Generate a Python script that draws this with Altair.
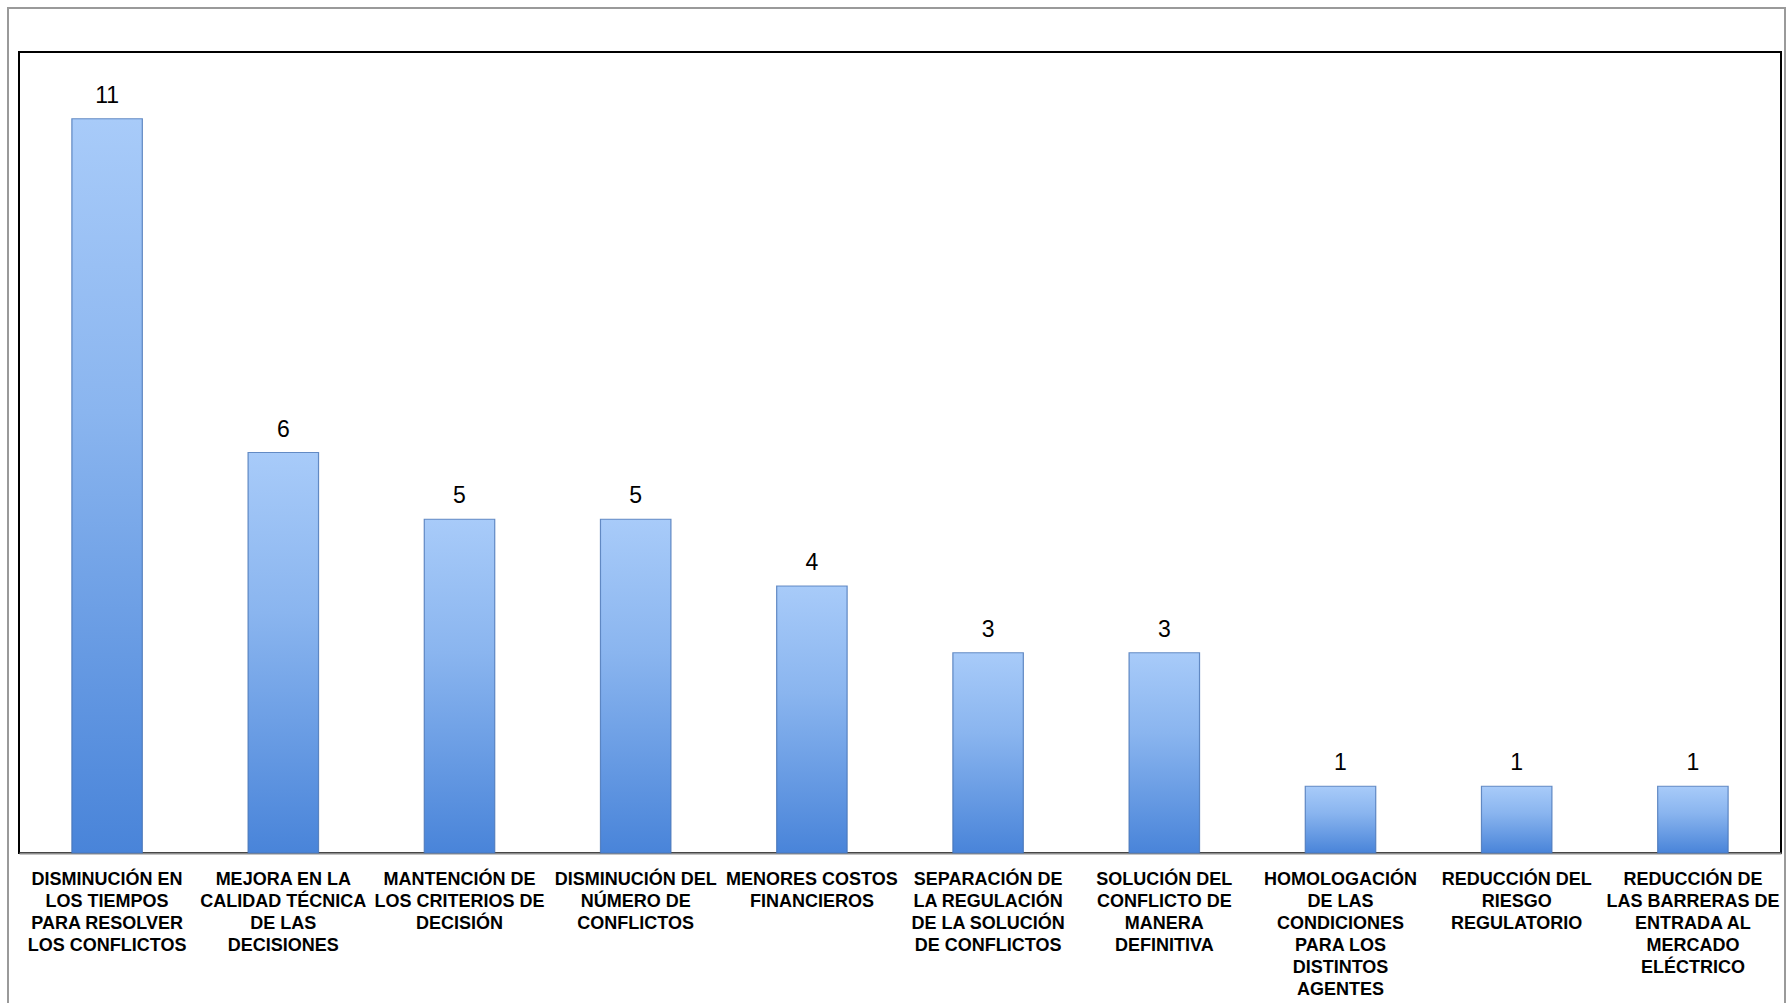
import altair as alt
import pandas as pd

categories = [
    "DISMINUCIÓN EN|LOS TIEMPOS|PARA RESOLVER|LOS CONFLICTOS",
    "MEJORA EN LA|CALIDAD TÉCNICA|DE LAS|DECISIONES",
    "MANTENCIÓN DE|LOS CRITERIOS DE|DECISIÓN",
    "DISMINUCIÓN DEL|NÚMERO DE|CONFLICTOS",
    "MENORES COSTOS|FINANCIEROS",
    "SEPARACIÓN DE|LA REGULACIÓN|DE LA SOLUCIÓN|DE CONFLICTOS",
    "SOLUCIÓN DEL|CONFLICTO DE|MANERA|DEFINITIVA",
    "HOMOLOGACIÓN|DE LAS|CONDICIONES|PARA LOS|DISTINTOS|AGENTES",
    "REDUCCIÓN DEL|RIESGO|REGULATORIO",
    "REDUCCIÓN DE|LAS BARRERAS DE|ENTRADA AL|MERCADO|ELÉCTRICO",
]
values = [11, 6, 5, 5, 4, 3, 3, 1, 1, 1]

df = pd.DataFrame({"cat": categories, "val": values})

FONT = "Liberation Sans"

x_enc = alt.X(
    "cat:N",
    sort=categories,
    scale=alt.Scale(paddingInner=0.6, paddingOuter=0.3),
    axis=alt.Axis(
        title=None,
        labelAngle=0,
        labelExpr="split(datum.label, '|')",
        labelFont=FONT,
        labelFontSize=18,
        labelFontWeight="bold",
        labelColor="black",
        labelLineHeight=22,
        labelLimit=0,
        labelPadding=17,
        labelBaseline="top",
        ticks=False,
        domainColor="#8c8c8c",
        domainWidth=2,
        labelOverlap=False,
    ),
)
y_enc = alt.Y("val:Q", scale=alt.Scale(domain=[0, 12], nice=False), axis=None)

gradient = alt.Gradient(
    gradient="linear",
    x1=0, y1=0, x2=0, y2=1,
    stops=[
        alt.GradientStop(color="#a8cbf9", offset=0),
        alt.GradientStop(color="#8ab5ef", offset=0.4),
        alt.GradientStop(color="#4984d9", offset=1),
    ],
)

bars = alt.Chart(df).mark_bar(
    fill=gradient, stroke="#4673b5", strokeWidth=1.2, strokeOpacity=0.8
).encode(x=x_enc, y=y_enc)

labels = alt.Chart(df).mark_text(
    font=FONT, fontSize=23, color="black", baseline="alphabetic", dy=-16
).encode(x=alt.X("cat:N", sort=categories), y=y_enc, text="val:Q")

frame = alt.Chart(df).mark_rect(
    fill=None, stroke="#9a9a9a", strokeWidth=2
).encode(
    x=alt.value(-11), x2=alt.value(1766), y=alt.value(-44), y2=alt.value(960)
)

chart = alt.layer(frame, bars, labels).properties(
    width=1762,
    height=801,
    autosize=alt.AutoSizeParams(type="none"),
    padding={"left": 19, "top": 52, "right": 7, "bottom": 150},
    background="white",
).configure_view(stroke="black", strokeWidth=2)

chart.save("out.html", embed_options={"renderer": "svg", "actions": False})
